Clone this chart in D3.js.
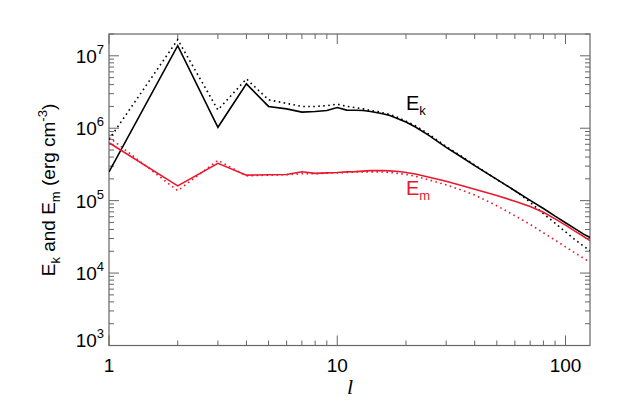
<!DOCTYPE html>
<html><head><meta charset="utf-8">
<script src="https://cdn.jsdelivr.net/npm/d3@7"></script>
<style>body{margin:0;background:#fff} svg{display:block}</style>
</head><body>
<svg id="c" width="623" height="415"></svg>
<script>
// ---- data ----
const ell = [1,2,3,4,5,6,7,8,9,10,11,12,13,14,15,16,17,18,19,20,22,25,30,35,40,50,60,70,80,90,100,110,120,128];
const ekSolid = [2.5e5,1.38e7,1.03e6,4.1e6,2.0e6,1.85e6,1.67e6,1.70e6,1.76e6,1.93e6,1.78e6,1.77e6,1.76e6,1.70e6,1.64e6,1.57e6,1.50e6,1.40e6,1.30e6,1.22e6,1.04e6,8.1e5,5.45e5,4.0e5,3.05e5,1.97e5,1.37e5,1.01e5,7.8e4,6.1e4,4.95e4,4.1e4,3.45e4,3.1e4];
const ekDotted = [7.0e5,1.67e7,1.79e6,4.8e6,2.47e6,2.2e6,2.0e6,2.0e6,2.05e6,2.15e6,2.0e6,1.93e6,1.85e6,1.75e6,1.7e6,1.62e6,1.55e6,1.45e6,1.35e6,1.25e6,1.08e6,8.4e5,5.6e5,4.1e5,3.1e5,1.95e5,1.38e5,9.5e4,6.6e4,4.9e4,3.7e4,2.9e4,2.35e4,2.05e4];
const emSolid = [6.3e5,1.6e5,3.27e5,2.25e5,2.28e5,2.3e5,2.5e5,2.38e5,2.42e5,2.45e5,2.5e5,2.52e5,2.56e5,2.6e5,2.6e5,2.6e5,2.58e5,2.55e5,2.5e5,2.45e5,2.33e5,2.12e5,1.85e5,1.62e5,1.44e5,1.18e5,9.8e4,8.3e4,6.9e4,5.6e4,4.6e4,3.8e4,3.2e4,2.8e4];
const emDotted = [7.5e5,1.37e5,3.6e5,2.2e5,2.25e5,2.28e5,2.35e5,2.35e5,2.4e5,2.42e5,2.45e5,2.48e5,2.5e5,2.5e5,2.5e5,2.48e5,2.45e5,2.4e5,2.35e5,2.3e5,2.17e5,1.95e5,1.65e5,1.4e5,1.2e5,8.5e4,6.2e4,4.7e4,3.6e4,2.85e4,2.3e4,1.9e4,1.6e4,1.42e4];
const xTickValues = [1,10,100];
const xTickLabels = ["1","10","100"];
const yTickValues = [1e3,1e4,1e5,1e6,1e7];
const yTickExponents = ["3","4","5","6","7"];

// ---- layout ----
const L=109, R=590, T=34, B=345.5;
const FONT = "'Liberation Sans', Arial, Helvetica, sans-serif";
const RED = "#e8192c";
const svg = d3.select("#c");
const x = d3.scaleLog().domain([1,128]).range([L,R]);
const y = d3.scaleLog().domain([1e3,2e7]).range([B,T]);

const axisCol = "#666";
const g = svg.append("g");
// frame
g.append("rect").attr("x",L).attr("y",T).attr("width",R-L).attr("height",B-T)
  .attr("fill","none").attr("stroke",axisCol).attr("stroke-width",1.2);

// ticks
const xMinor = x.ticks(30).filter(v=>v>=1&&v<=128);
const yMinor = y.ticks(40).filter(v=>v>=1e3&&v<=2e7);
const isMajor = v => Math.abs(Math.log10(v)-Math.round(Math.log10(v)))<1e-9;
xMinor.forEach(v=>{
  const len = isMajor(v)?10:5, px=x(v);
  g.append("line").attr("x1",px).attr("x2",px).attr("y1",B).attr("y2",B-len).attr("stroke",axisCol);
  g.append("line").attr("x1",px).attr("x2",px).attr("y1",T).attr("y2",T+len).attr("stroke",axisCol);
});
yMinor.forEach(v=>{
  const len = isMajor(v)?10:5, py=y(v);
  g.append("line").attr("y1",py).attr("y2",py).attr("x1",L).attr("x2",L+len).attr("stroke",axisCol);
  g.append("line").attr("y1",py).attr("y2",py).attr("x1",R).attr("x2",R-len).attr("stroke",axisCol);
});

// tick labels
xTickValues.forEach((v,i)=>{
  svg.append("text").attr("x",x(v)).attr("y",372).attr("text-anchor","middle")
    .attr("font-family",FONT).attr("font-size",19).text(xTickLabels[i]);
});
yTickValues.forEach((v,i)=>{
  const t = svg.append("text").attr("x",104).attr("y",Math.min(y(v)+7, B+1)).attr("text-anchor","end")
    .attr("font-family",FONT).attr("font-size",19);
  t.append("tspan").text("10");
  t.append("tspan").attr("dy",-9).attr("font-size",13).text(yTickExponents[i]);
});

// axis titles
svg.append("text").attr("x",350).attr("y",394).attr("text-anchor","middle")
  .attr("font-family","'Liberation Serif', 'Times New Roman', serif").attr("font-style","italic")
  .attr("font-size",22).text("l");
const yl = svg.append("text").attr("transform","translate(55,190) rotate(-90)")
  .attr("text-anchor","middle").attr("font-family",FONT).attr("font-size",19);
yl.append("tspan").text("E");
yl.append("tspan").attr("font-size",13).attr("dy",5).text("k");
yl.append("tspan").attr("dy",-5).text(" and E");
yl.append("tspan").attr("font-size",13).attr("dy",5).text("m");
yl.append("tspan").attr("dy",-5).text(" (erg cm");
yl.append("tspan").attr("font-size",13).attr("dy",-8).text("-3");
yl.append("tspan").attr("dy",8).text(")");

// lines
const clip = svg.append("clipPath").attr("id","pc").append("rect")
  .attr("x",L).attr("y",T).attr("width",R-L).attr("height",B-T);
const line = d3.line().x((d,i)=>x(ell[i])).y(d=>y(d));
const series = [
  {v:ekDotted, c:"#000", dash:"1.6 3.4"},
  {v:ekSolid, c:"#000", dash:null},
  {v:emDotted, c:RED, dash:"1.6 3.4"},
  {v:emSolid, c:RED, dash:null}
];
series.forEach(s=>{
  svg.append("path").attr("d",line(s.v)).attr("fill","none").attr("stroke",s.c)
    .attr("stroke-width",1.6).attr("stroke-dasharray",s.dash).attr("clip-path","url(#pc)");
});

// series labels
const lk = svg.append("text").attr("x",406).attr("y",110).attr("font-family",FONT).attr("font-size",20);
lk.append("tspan").text("E");
lk.append("tspan").attr("font-size",13).attr("dy",5).text("k");
const lm = svg.append("text").attr("x",406).attr("y",195).attr("font-family",FONT).attr("font-size",20).attr("fill",RED);
lm.append("tspan").text("E");
lm.append("tspan").attr("font-size",13).attr("dy",5).text("m");
</script>
</body></html>
